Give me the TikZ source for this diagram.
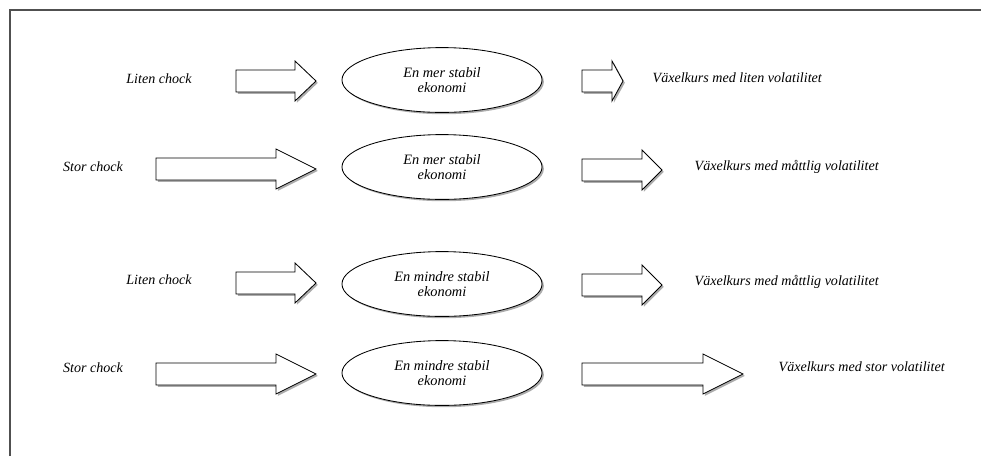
\documentclass[tikz,border=0pt]{standalone}
\usepackage{fontspec}
\setmainfont{Liberation Serif}
\usepackage{tikz}
\usetikzlibrary{shapes.geometric, shadows}
\definecolor{framecolor}{RGB}{80,80,80}

\tikzset{
  lbl/.style={font=\itshape, inner sep=1pt},
  econ/.style={draw, ellipse, line width=0.6pt, fill=white, minimum width=5cm,
    minimum height=1.62cm, align=center, inner sep=0pt,
    font=\itshape\fontsize{10.2}{11}\selectfont,
    drop shadow={shadow xshift=1.3pt, shadow yshift=-1.3pt, fill=black!65}},
  blockarrow/.style={draw, line width=0.6pt, fill=white, line join=miter,
    drop shadow={shadow xshift=1.3pt, shadow yshift=-1.3pt, fill=black!65}}
}
% block arrow: start x, head base x, tip x, centre y
\newcommand{\blockarr}[4]{%
  \draw[blockarrow] (#1,#4-11) -- (#2,#4-11) -- (#2,#4-20) -- (#3,#4)
    -- (#2,#4+20) -- (#2,#4+11) -- (#1,#4+11) -- cycle;}

\begin{document}
\begin{tikzpicture}[x=0.025cm, y=-0.025cm]
    \useasboundingbox (0,0) rectangle (981,456);
    % frame
    \draw[framecolor, line width=1.1pt] (10,456) -- (10,10) -- (981,10);

    % Liten chock -- mer stabil
    \node[lbl] (shock1) at (159,79) {Liten chock};
    \blockarr{236}{295}{316}{81}
    \node[econ] (econ1) at (442,80) {En mer stabil\\ekonomi};
    \blockarr{582}{612}{623}{81}
    \node[lbl, anchor=west] (rate1) at (651,78) {Växelkurs med liten volatilitet};

    % Stor chock -- mer stabil
    \node[lbl] (shock2) at (93,167) {Stor chock};
    \blockarr{156}{276}{316}{169}
    \node[econ] (econ2) at (442,167) {En mer stabil\\ekonomi};
    \blockarr{582}{642}{662}{170}
    \node[lbl, anchor=west] (rate2) at (693,167) {Växelkurs med måttlig volatilitet};

    % Liten chock -- mindre stabil
    \node[lbl] (shock3) at (159,280) {Liten chock};
    \blockarr{236}{295}{316}{283}
    \node[econ] (econ3) at (442,284) {En mindre stabil\\ekonomi};
    \blockarr{582}{642}{662}{285}
    \node[lbl, anchor=west] (rate3) at (693,282) {Växelkurs med måttlig volatilitet};

    % Stor chock -- mindre stabil
    \node[lbl] (shock4) at (93,368) {Stor chock};
    \blockarr{156}{276}{316}{374}
    \node[econ] (econ4) at (442,373) {En mindre stabil\\ekonomi};
    \blockarr{582}{703}{743}{374}
    \node[lbl, anchor=west] (rate4) at (777,367) {Växelkurs med stor volatilitet};
\end{tikzpicture}
\end{document}
